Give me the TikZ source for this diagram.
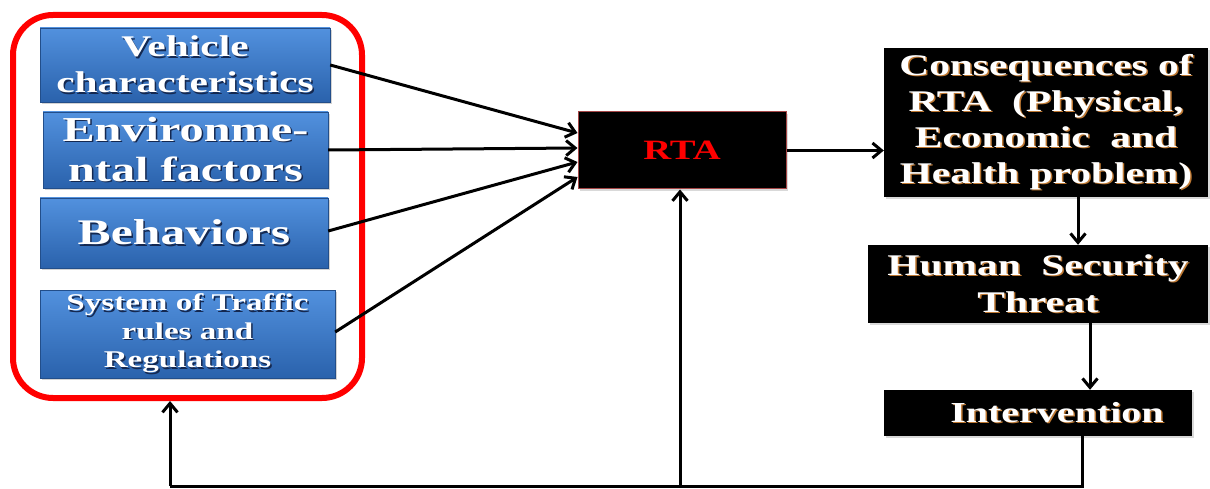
\documentclass[tikz,border=0pt]{standalone}
\usepackage{fontspec}
\usetikzlibrary{arrows.meta,shadows}
\newfontfamily\wfont{Liberation Serif}[FakeStretch=1.38]
\definecolor{bluetop}{RGB}{82,145,222}
\definecolor{bluebot}{RGB}{42,98,172}
\definecolor{blueshd}{RGB}{20,40,80}
\definecolor{goldshd}{RGB}{190,120,50}
\definecolor{rtaborder}{RGB}{165,70,70}
\colorlet{shc}{blueshd}
\newcommand\shtxt[1]{\rlap{\kern1.5pt\raisebox{-1.5pt}{\textcolor{shc}{#1}}}#1}
\begin{document}
\begin{tikzpicture}[x=1pt,y=-1pt,
  bluebox/.style={shape=rectangle, top color=bluetop, bottom color=bluebot, draw=bluebot!80!black, line width=0.4pt,
     text=white, align=center, inner sep=0pt,
     drop shadow={shadow xshift=2pt,shadow yshift=-2pt,opacity=0.35}},
  blackbox/.style={shape=rectangle, fill=black, text=white, align=center, inner sep=0pt,
     drop shadow={shadow xshift=2pt,shadow yshift=-2pt,opacity=0.3}},
  link/.style={line width=3pt, draw=black},
  arr/.style={link, -{Straight Barb[length=9pt,width=15pt]}}
]
\useasboundingbox (0,0) rectangle (1210,489);

% red group frame
\node[draw=red, line width=6pt, rounded corners=40pt, minimum width=349pt, minimum height=383pt, inner sep=0pt] (grp) at (187.5,206.5) {};

% blue factor boxes
\node[bluebox, minimum width=290pt, minimum height=74pt, font=\wfont\bfseries\fontsize{30}{36}\selectfont] (veh) at (185,65)
  {\shtxt{Vehicle}\\\shtxt{characteristics}};
\node[bluebox, minimum width=285pt, minimum height=76pt, font=\wfont\bfseries\fontsize{35}{40}\selectfont] (env) at (185.5,150)
  {\shtxt{Environme-}\\\shtxt{ntal factors}};
\node[bluebox, minimum width=288pt, minimum height=70pt, font=\wfont\bfseries\fontsize{36}{40}\selectfont] (beh) at (184,233)
  {\shtxt{Behaviors}};
\node[bluebox, minimum width=295pt, minimum height=88pt, font=\wfont\bfseries\fontsize{24}{28.5}\selectfont] (sys) at (187.5,334)
  {\shtxt{System of Traffic}\\\shtxt{rules and}\\\shtxt{Regulations}};

% RTA
\node[shape=rectangle, fill=black, draw=rtaborder, line width=1pt, minimum width=208pt, minimum height=77pt,
      text=red, font=\wfont\bfseries\fontsize{28}{32}\selectfont,
      drop shadow={shadow xshift=2pt,shadow yshift=-2pt,opacity=0.3}] (rta) at (682,150.5) {RTA};

% right column
\colorlet{shc}{goldshd}
\node[blackbox, minimum width=324pt, minimum height=149pt, font=\wfont\bfseries\fontsize{30}{36}\selectfont] (cons) at (1046,122.5)
  {\shtxt{Consequences of}\\\shtxt{RTA\ \ (Physical,}\\\shtxt{Economic\ \ and}\\\shtxt{Health problem)}};
\node[blackbox, minimum width=340pt, minimum height=78pt, font=\wfont\bfseries\fontsize{30}{37}\selectfont] (hum) at (1038,284)
  {\shtxt{Human\ \ Security}\\\shtxt{Threat}};
\node[blackbox, minimum width=308pt, minimum height=46pt, font=\wfont\bfseries\fontsize{29}{33}\selectfont] (int) at (1038,413)
  {\hspace*{38pt}\shtxt{Intervention}};

% connectors into RTA
\draw[arr] (veh.east) -- ([yshift=17.5pt]rta.west);
\draw[arr] (env.east) -- ([yshift=2.5pt]rta.west);
\draw[arr] ([yshift=2pt]beh.east) -- ([yshift=-11.5pt]rta.west);
\draw[arr] ([yshift=2pt]sys.east) -- ([yshift=-26.5pt]rta.west);

% RTA to consequences and down the right column
\draw[arr] (rta.east) -- (rta.east -| cons.west);
\draw[arr] ([xshift=32pt]cons.south) -- ([xshift=32pt]cons.south |- hum.north);
\draw[arr] ([xshift=52pt]hum.south) -- ([xshift=52pt]hum.south |- int.north);

% feedback loop
\coordinate (bl) at (170,486);
\coordinate (bm) at (680,486);
\draw[link] ([xshift=44pt]int.south) |- (bl);
\draw[arr] (bl) -- (bl |- grp.south);
\draw[arr] (bm) -- (bm |- rta.south);
\end{tikzpicture}
\end{document}
